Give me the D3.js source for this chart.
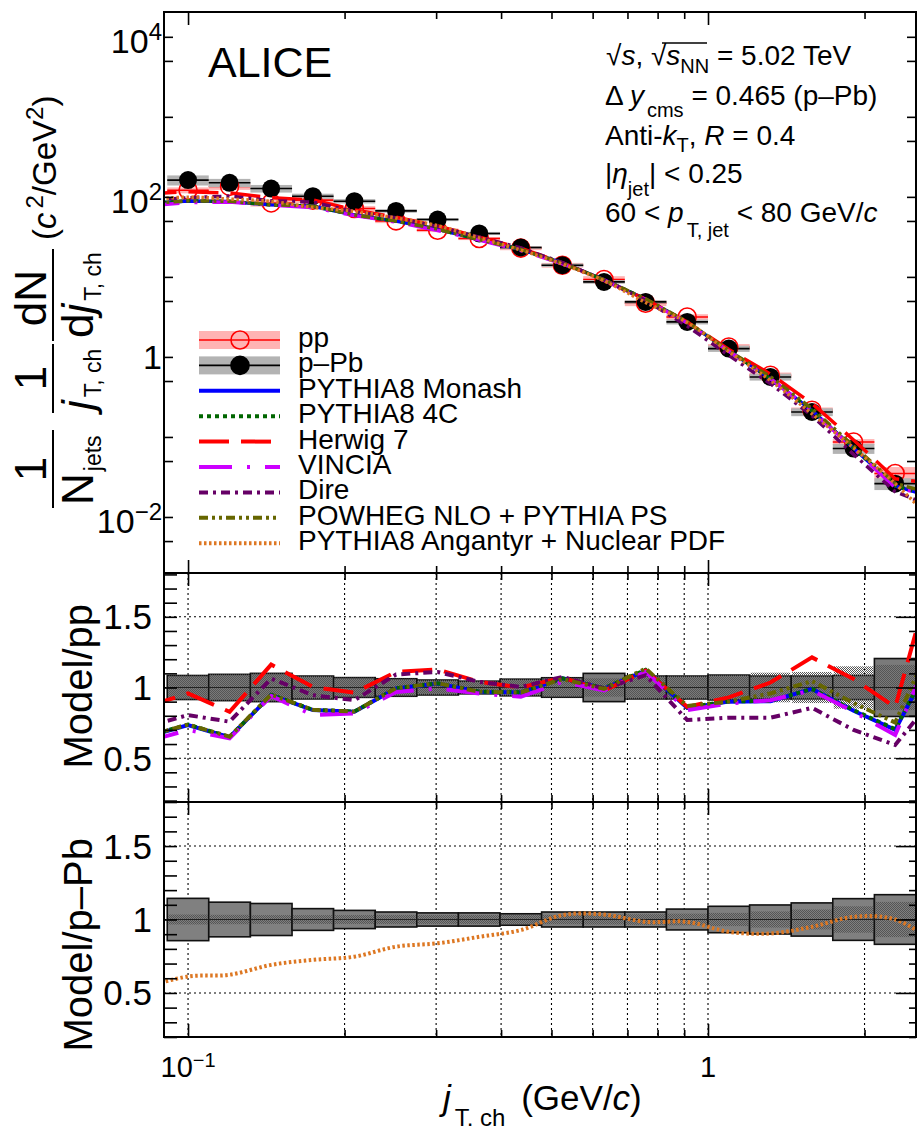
<!DOCTYPE html>
<html>
<head>
<meta charset="utf-8">
<script src="https://cdn.jsdelivr.net/npm/d3@7"></script>
<style>
  body { margin: 0; background: #fff; }
  svg { display: block; font-family: "Liberation Sans", Arial, Helvetica, sans-serif; }
</style>
</head>
<body>
<svg id="chart" width="917" height="1126"></svg>
<script>
// jT bins (GeV/c): centres and edges of the 18 visible bins
const binCenters = [0.1, 0.1202, 0.1445, 0.1738, 0.2089, 0.2512, 0.302, 0.3631, 0.4365, 0.5248,
                    0.631, 0.7586, 0.912, 1.0965, 1.3183, 1.5849, 1.9055, 2.2909];
const binEdges = [0.0912, 0.1096, 0.1318, 0.1585, 0.1905, 0.2291, 0.2754, 0.3311, 0.3981, 0.4786,
                  0.5754, 0.6918, 0.8318, 1.0, 1.2023, 1.4454, 1.7378, 2.0893, 2.5119];
// model curves also carry the neighbouring bin on each side (outside the frame)
const curveX = [0.0832, 0.1, 0.1202, 0.1445, 0.1738, 0.2089, 0.2512, 0.302, 0.3631, 0.4365, 0.5248,
                0.631, 0.7586, 0.912, 1.0965, 1.3183, 1.5849, 1.9055, 2.2909, 2.7542];

// measured spectra
const ppValues  = [121, 135, 84, 91, 71.6, 50.1, 38.3, 30.2, 22.9, 14.0, 9.28, 4.69, 3.16, 1.33, 0.59, 0.216, 0.0866, 0.0349];
const pPbValues = [162, 150, 127, 102, 88.3, 66.8, 52.1, 34.9, 23.3, 14.0, 8.66, 4.87, 2.74, 1.27, 0.562, 0.205, 0.0716, 0.0261];
const ppNeighbours  = [126, 0.0135];
const pPbNeighbours = [170, 0.0095];

// relative uncertainties (ratio panels)
const ppSys   = [0.085, 0.093, 0.10, 0.081, 0.07, 0.062, 0.053, 0.045, 0.059, 0.069, 0.10, 0.081, 0.081, 0.088, 0.081, 0.081, 0.085, 0.205];
const ppStat  = [0.085, 0.093, 0.10, 0.081, 0.07, 0.062, 0.053, 0.045, 0.059, 0.069, 0.065, 0.081, 0.081, 0.088, 0.105, 0.11, 0.15, 0.16];
const pPbSys  = [0.144, 0.118, 0.109, 0.074, 0.062, 0.051, 0.045, 0.045, 0.039, 0.051, 0.051, 0.051, 0.071, 0.09, 0.099, 0.113, 0.142, 0.169];
const pPbStat = [0.034, 0.032, 0.03, 0.03, 0.03, 0.03, 0.03, 0.03, 0.03, 0.032, 0.034, 0.036, 0.04, 0.045, 0.055, 0.068, 0.09, 0.12];

// Model / pp
const monashRatio = [0.651, 0.735, 0.648, 0.946, 0.84, 0.828, 0.993, 1.028, 0.969, 0.965, 1.065, 0.993, 1.12, 0.855, 0.9, 0.903, 0.99, 0.835, 0.70, 1.263];
const fourCRatio  = [0.655, 0.738, 0.65, 0.948, 0.842, 0.83, 0.995, 1.03, 0.97, 0.967, 1.065, 0.995, 1.125, 0.86, 0.902, 0.905, 0.99, 0.84, 0.705, 1.27];
const herwigRatio = [0.864, 0.958, 0.828, 1.162, 1.004, 0.963, 1.11, 1.128, 1.04, 1.0, 1.07, 0.977, 1.12, 0.863, 0.93, 1.035, 1.213, 1.06, 0.86, 1.928];
const vinciaRatio = [0.616, 0.70, 0.64, 0.94, 0.805, 0.817, 0.969, 0.993, 0.958, 0.934, 1.04, 0.98, 1.11, 0.84, 0.887, 0.91, 0.98, 0.828, 0.664, 1.347];
const direRatio   = [0.723, 0.805, 0.758, 1.063, 0.946, 0.91, 1.092, 1.11, 1.04, 1.004, 1.075, 0.993, 1.087, 0.77, 0.786, 0.786, 0.856, 0.70, 0.594, 0.955];
const powhegRatio = [0.655, 0.738, 0.652, 0.95, 0.842, 0.83, 0.995, 1.03, 0.97, 0.965, 1.06, 0.99, 1.134, 0.87, 0.9, 0.958, 1.045, 0.89, 0.752, 1.4];
// Model / p-Pb
const angantyrRatio = [0.542, 0.612, 0.624, 0.691, 0.725, 0.747, 0.815, 0.838, 0.882, 0.928, 1.03, 1.034, 0.984, 0.984, 0.916, 0.905, 0.95, 1.018, 1.0, 0.837];

// axis ticks
const topYTicks = [0.005, 0.01, 0.05, 0.1, 0.5, 1, 5, 10, 50, 100, 500, 1000, 5000, 10000];
const topYLabels = [[0.01, "10", "\u22122"], [1, "1", ""], [100, "10", "2"], [10000, "10", "4"]];
const xMajor = [0.1, 1];
const xMinor = [0.2, 0.3, 0.4, 0.5, 0.6, 0.7, 0.8, 0.9, 2];
const ratioTicks = [0.2, 0.3, 0.4, 0.5, 0.6, 0.7, 0.8, 0.9, 1, 1.1, 1.2, 1.3, 1.4, 1.5, 1.6, 1.7, 1.8];
const ratioLabels = [0.5, 1, 1.5];

const ppModels = [
    {name: "PYTHIA8 Monash", ratio: monashRatio, color: "#0000ff", dash: null},
    {name: "PYTHIA8 4C", ratio: fourCRatio, color: "#006600", dash: "4,4"},
    {name: "Herwig 7", ratio: herwigRatio, color: "#ff0000", dash: "30,12"},
    {name: "VINCIA", ratio: vinciaRatio, color: "#cc00ff", dash: "33,15,3,15"},
    {name: "Dire", ratio: direRatio, color: "#660066", dash: "9,5,3,5"},
    {name: "POWHEG NLO + PYTHIA PS", ratio: powhegRatio, color: "#666600", dash: "9,4,3,4,3,4"}
];
const angantyr = {name: "PYTHIA8 Angantyr + Nuclear PDF", ratio: angantyrRatio, color: "#dd7722", dash: "2.5,2.5"};

const left = 164, right = 916;
const panels = {top: [12, 573], r1: [573, 802], r2: [802, 1037]};

const svg = d3.select("#chart");
const defs = svg.append("defs");

const x = d3.scaleLog().domain([0.0899, 2.512]).range([left, right]);
const yTop = d3.scaleLog().domain([Math.pow(10, -2.7), Math.pow(10, 4.31)]).range([panels.top[1], panels.top[0]]);
const yR1 = d3.scaleLinear().domain([0.19, 1.81]).range([panels.r1[1], panels.r1[0]]);
const yR2 = d3.scaleLinear().domain([0.2, 1.8]).range([panels.r2[1], panels.r2[0]]);

// checker fill used for the statistical bands
const pat = defs.append("pattern").attr("id", "checker")
    .attr("width", 2).attr("height", 2).attr("patternUnits", "userSpaceOnUse");
pat.append("rect").attr("x", 0).attr("y", 0).attr("width", 1).attr("height", 1).attr("fill", "#555");
pat.append("rect").attr("x", 1).attr("y", 1).attr("width", 1).attr("height", 1).attr("fill", "#555");

Object.entries(panels).forEach(([k, p]) => {
    defs.append("clipPath").attr("id", "clip-" + k)
      .append("rect").attr("x", left).attr("y", p[0]).attr("width", right - left).attr("height", p[1] - p[0]);
});

// text with sub/superscripts; relative dy keeps it one chunk so anchors work
function richText(g, tx, ty, parts, size, anchor) {
    const t = g.append("text")
        .attr("x", tx).attr("y", ty)
        .attr("font-size", size)
        .attr("text-anchor", anchor || "start");
    let cur = 0;
    parts.forEach(p => {
        const off = p.sub ? p.sub : (p.sup ? -p.sup : 0);
        const s = t.append("tspan").text(p.t).attr("dy", off - cur);
        cur = off;
        if (p.size) s.attr("font-size", p.size);
        if (p.it) s.attr("font-style", "italic");
        if (p.dx) s.attr("dx", p.dx);
    });
    return t;
}

// ---------- ratio grids ----------
const grid = svg.append("g").attr("stroke", "#000").attr("stroke-width", 1.1).attr("stroke-dasharray", "2,3");
xMajor.concat(xMinor).forEach(v => {
    grid.append("line").attr("x1", x(v)).attr("x2", x(v)).attr("y1", panels.r1[0]).attr("y2", panels.r2[1]);
});
ratioLabels.forEach(v => {
    grid.append("line").attr("x1", left).attr("x2", right).attr("y1", yR1(v)).attr("y2", yR1(v));
    grid.append("line").attr("x1", left).attr("x2", right).attr("y1", yR2(v)).attr("y2", yR2(v));
});

// ---------- top panel ----------
const topPanel = svg.append("g").attr("clip-path", "url(#clip-top)");

function spectrum(values, sys, band, lineColor) {
    topPanel.append("g").selectAll("rect").data(values).join("rect")
        .attr("x", (d, i) => x(binEdges[i]))
        .attr("width", (d, i) => x(binEdges[i + 1]) - x(binEdges[i]))
        .attr("y", (d, i) => yTop(d * (1 + sys[i])))
        .attr("height", (d, i) => yTop(d * (1 - sys[i])) - yTop(d * (1 + sys[i])))
        .attr("fill", band);
    topPanel.append("g").selectAll("line").data(values).join("line")
        .attr("x1", (d, i) => x(binEdges[i]))
        .attr("x2", (d, i) => x(binEdges[i + 1]))
        .attr("y1", d => yTop(d)).attr("y2", d => yTop(d))
        .attr("stroke", lineColor).attr("stroke-width", 1.6);
}
spectrum(ppValues, ppSys, "#ffb3b3", "#ff0000");
spectrum(pPbValues, pPbSys, "#b3b3b3", "#000");

topPanel.append("g").selectAll("circle").data(ppValues).join("circle")
    .attr("cx", (d, i) => x(binCenters[i])).attr("cy", d => yTop(d)).attr("r", 9)
    .attr("fill", "none").attr("stroke", "#ff0000").attr("stroke-width", 1.6);
topPanel.append("g").selectAll("circle").data(pPbValues).join("circle")
    .attr("cx", (d, i) => x(binCenters[i])).attr("cy", d => yTop(d)).attr("r", 9)
    .attr("fill", "#000");

const ppFull = [ppNeighbours[0]].concat(ppValues, [ppNeighbours[1]]);
const pPbFull = [pPbNeighbours[0]].concat(pPbValues, [pPbNeighbours[1]]);
const topLine = d3.line().x((d, i) => x(curveX[i])).y(d => yTop(d));

ppModels.forEach(m => {
    topPanel.append("path")
        .datum(m.ratio.map((r, i) => r * ppFull[i]))
        .attr("fill", "none").attr("stroke", m.color).attr("stroke-width", 3.5)
        .attr("stroke-dasharray", m.dash).attr("d", topLine);
});
topPanel.append("path")
    .datum(angantyr.ratio.map((r, i) => r * pPbFull[i]))
    .attr("fill", "none").attr("stroke", angantyr.color).attr("stroke-width", 3.5)
    .attr("stroke-dasharray", angantyr.dash)
    .attr("d", d3.line().curve(d3.curveCatmullRom).x((d, i) => x(curveX[i])).y(d => yTop(d)));

// ---------- ratio boxes ----------
function ratioBoxes(g, yS, sys, stat, boxFill) {
    g.append("g").selectAll("rect").data(sys).join("rect")
        .attr("x", (d, i) => x(binEdges[i]))
        .attr("width", (d, i) => x(binEdges[i + 1]) - x(binEdges[i]))
        .attr("y", d => yS(1 + d)).attr("height", d => yS(1 - d) - yS(1 + d))
        .attr("fill", boxFill).attr("stroke", "#111").attr("stroke-width", 1.6);
    g.append("g").selectAll("rect").data(stat).join("rect")
        .attr("x", (d, i) => x(binEdges[i]) + 1)
        .attr("width", (d, i) => x(binEdges[i + 1]) - x(binEdges[i]) - 2)
        .attr("y", d => yS(1 + d)).attr("height", d => yS(1 - d) - yS(1 + d))
        .attr("fill", "url(#checker)");
    g.append("g").selectAll("line").data(sys).join("line")
        .attr("x1", (d, i) => x(binEdges[i])).attr("x2", (d, i) => x(binEdges[i + 1]))
        .attr("y1", yS(1)).attr("y2", yS(1))
        .attr("stroke", "#222").attr("stroke-width", 1.2);
}

const r1 = svg.append("g").attr("clip-path", "url(#clip-r1)");
ratioBoxes(r1, yR1, ppSys, ppStat, "#7a7a7a");
const r1Line = d3.line().x((d, i) => x(curveX[i])).y(d => yR1(d));
ppModels.forEach(m => {
    r1.append("path").datum(m.ratio)
        .attr("fill", "none").attr("stroke", m.color).attr("stroke-width", 4)
        .attr("stroke-dasharray", m.dash).attr("d", r1Line);
});

const r2 = svg.append("g").attr("clip-path", "url(#clip-r2)");
ratioBoxes(r2, yR2, pPbSys, pPbStat, "#808080");
r2.append("path").datum(angantyr.ratio)
    .attr("fill", "none").attr("stroke", angantyr.color).attr("stroke-width", 4)
    .attr("stroke-dasharray", angantyr.dash)
    .attr("d", d3.line().curve(d3.curveCatmullRom).x((d, i) => x(curveX[i])).y(d => yR2(d)));

// ---------- axes ----------
function xTicks(p) {
    const [y0, y1] = p;
    svg.append("g").attr("transform", `translate(0,${y1})`)
        .call(d3.axisBottom(x).tickValues(xMajor).tickSize(-13).tickFormat(""));
    svg.append("g").attr("transform", `translate(0,${y1})`)
        .call(d3.axisBottom(x).tickValues(xMinor).tickSize(-7).tickFormat(""));
    svg.append("g").attr("transform", `translate(0,${y0})`)
        .call(d3.axisTop(x).tickValues(xMajor).tickSize(-13).tickFormat(""));
    svg.append("g").attr("transform", `translate(0,${y0})`)
        .call(d3.axisTop(x).tickValues(xMinor).tickSize(-7).tickFormat(""));
}
Object.values(panels).forEach(xTicks);

svg.append("g").attr("transform", `translate(${left},0)`)
    .call(d3.axisLeft(yTop).tickValues(topYTicks).tickSize(-9).tickFormat(""));
svg.append("g").attr("transform", `translate(${right},0)`)
    .call(d3.axisRight(yTop).tickValues(topYTicks).tickSize(-9).tickFormat(""));

[yR1, yR2].forEach(yS => {
    svg.append("g").attr("transform", `translate(${left},0)`)
        .call(d3.axisLeft(yS).tickValues(ratioTicks).tickSize(-13).tickFormat(""));
    svg.append("g").attr("transform", `translate(${right},0)`)
        .call(d3.axisRight(yS).tickValues(ratioTicks.filter(v => !ratioLabels.includes(v))).tickSize(-7).tickFormat(""));
    svg.append("g").attr("transform", `translate(${right},0)`)
        .call(d3.axisRight(yS).tickValues(ratioLabels).tickSize(-20).tickFormat(""));
});

svg.selectAll(".domain").remove();
svg.selectAll(".tick line").attr("stroke", "#000").attr("stroke-width", 1.6);

// frames
Object.values(panels).forEach(p => {
    svg.append("rect").attr("x", left).attr("y", p[0]).attr("width", right - left).attr("height", p[1] - p[0])
        .attr("fill", "none").attr("stroke", "#000").attr("stroke-width", 2);
});

// tick labels
topYLabels.forEach(([v, base, exp]) => {
    const parts = [{t: base}];
    if (exp) parts.push({t: exp, sup: 13, size: 24});
    richText(svg, 162, yTop(v) + (exp ? 16 : 12.5), parts, 34, "end");
});
[yR1, yR2].forEach(yS => {
    ratioLabels.forEach(v => {
        svg.append("text").attr("x", 152).attr("y", yS(v) + 12.5)
            .attr("font-size", 35).attr("text-anchor", "end").text(v);
    });
});
richText(svg, x(0.1), 1077, [{t: "10"}, {t: "\u22121", sup: 10, size: 20}], 29, "middle");
svg.append("text").attr("x", x(1)).attr("y", 1077).attr("font-size", 29).attr("text-anchor", "middle").text("1");

// axis titles
richText(svg, 443, 1110, [{t: "j", it: true}, {t: "T, ch", sub: 16, size: 24, dx: 4}, {t: " (GeV/", dx: 6}, {t: "c", it: true}, {t: ")"}], 35, "start");

svg.append("text").attr("transform", "translate(92,604) rotate(-90)")
    .attr("font-size", 40).attr("text-anchor", "end").text("Model/pp");
svg.append("text").attr("transform", "translate(92,838) rotate(-90)")
    .attr("font-size", 40).attr("text-anchor", "end").text("Model/p\u2013Pb");

// top y title, built in a rotated frame (local x = -page y, local y = page x)
const yt = svg.append("g").attr("transform", "rotate(-90)");
const numBase = 46, barAt = 53, denBase = 93, subDrop = 8;
function fracBar(u0, u1) {
    yt.append("line").attr("x1", u0).attr("x2", u1).attr("y1", barAt).attr("y2", barAt)
        .attr("stroke", "#000").attr("stroke-width", 2);
}
// 1 / N_jets
richText(yt, -505, denBase, [{t: "N"}, {t: "jets", sub: subDrop, size: 23, dx: 2}], 44, "start");
fracBar(-508, -430);
richText(yt, -469, numBase, [{t: "1"}], 44, "middle");
// 1 / j_T,ch
richText(yt, -410, denBase, [{t: "j", it: true}, {t: "T, ch", sub: subDrop, size: 23, dx: 3}], 44, "start");
fracBar(-413, -344);
richText(yt, -378, numBase, [{t: "1"}], 44, "middle");
// dN / dj_T,ch
richText(yt, -338, denBase, [{t: "d"}, {t: "j", it: true}, {t: "T, ch", sub: subDrop, size: 23, dx: 3}], 44, "start");
fracBar(-341, -249);
richText(yt, -298, numBase, [{t: "dN"}], 44, "middle");
// (c^2/GeV^2)
richText(yt, -240, 56, [{t: "("}, {t: "c", it: true}, {t: "2", sup: 13, size: 24, dx: 4}, {t: "/GeV"}, {t: "2", sup: 13, size: 24}, {t: ")"}], 33, "start");

// ALICE + info text
svg.append("text").attr("x", 208).attr("y", 77).attr("font-size", 43).text("ALICE");
const info = svg.append("g");
richText(info, 606, 65, [{t: "\u221A"}, {t: "s", it: true}, {t: ", \u221A"}, {t: "s", it: true}, {t: "NN", sub: 8, size: 20}, {t: " = 5.02 TeV"}], 28);
info.append("line").attr("x1", 662).attr("x2", 707).attr("y1", 43).attr("y2", 43).attr("stroke", "#000").attr("stroke-width", 1.4);
richText(info, 605, 105, [{t: "\u0394 "}, {t: "y", it: true}, {t: "cms", sub: 12, size: 20, dx: 3}, {t: " = 0.465 (p\u2013Pb)"}], 28);
richText(info, 605, 145, [{t: "Anti-"}, {t: "k", it: true}, {t: "T", sub: 7, size: 20}, {t: ", "}, {t: "R", it: true}, {t: " = 0.4"}], 28);
richText(info, 605, 183, [{t: "|"}, {t: "\u03B7", it: true}, {t: "jet", sub: 13, size: 20}, {t: "| < 0.25"}], 28);
richText(info, 605, 222, [{t: "60 < "}, {t: "p", it: true}, {t: "T, jet", sub: 15, size: 20, dx: 3}, {t: " < 80 GeV/"}, {t: "c", it: true}], 28);

// ---------- legend ----------
const legend = svg.append("g");
const rowY = i => 340 + 25.4 * i;
const lx0 = 199, lx1 = 280, lxm = 240;
[["pp", "#ffb3b3", "#ff0000", false], ["p\u2013Pb", "#b3b3b3", "#000", true]].forEach(([name, band, col, filled], i) => {
    legend.append("rect").attr("x", lx0).attr("y", rowY(i) - 9).attr("width", lx1 - lx0).attr("height", 18).attr("fill", band);
    legend.append("line").attr("x1", lx0).attr("x2", lx1).attr("y1", rowY(i)).attr("y2", rowY(i)).attr("stroke", col).attr("stroke-width", 1.6);
    legend.append("circle").attr("cx", lxm).attr("cy", rowY(i)).attr("r", 9)
        .attr("fill", filled ? "#000" : "none").attr("stroke", col).attr("stroke-width", 1.6);
    legend.append("text").attr("x", 298).attr("y", rowY(i) + 7).attr("font-size", 28).text(name);
});
ppModels.concat([angantyr]).forEach((m, j) => {
    const i = j + 2;
    legend.append("line").attr("x1", lx0).attr("x2", lx1).attr("y1", rowY(i)).attr("y2", rowY(i))
        .attr("stroke", m.color).attr("stroke-width", 4).attr("stroke-dasharray", m.dash);
    legend.append("text").attr("x", 298).attr("y", rowY(i) + 7).attr("font-size", 28).text(m.name);
});
</script>
</body>
</html>
